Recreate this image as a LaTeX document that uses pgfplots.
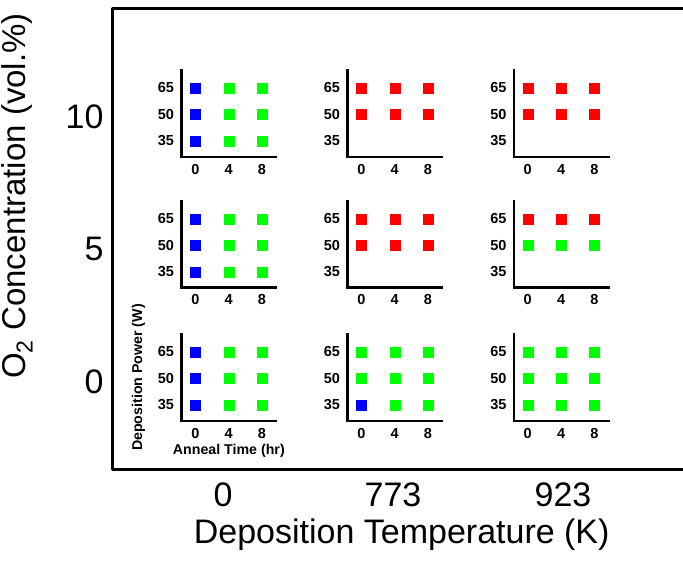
\documentclass[border=0pt]{standalone}
\usepackage{pgfplots}
\pgfplotsset{compat=1.18}
\usepackage{fontspec}
\setmainfont{Liberation Sans}
\definecolor{mblue}{RGB}{0,0,255}
\definecolor{mgreen}{RGB}{0,255,0}
\definecolor{mred}{RGB}{255,0,0}
\pgfplotsset{
  mini/.style={
    scale only axis, width=94.6pt, height=86.6pt,
    anchor=south west,
    xmin=-1.65, xmax=9.7, ymin=26, ymax=75,
    axis lines=left,
    axis line style={-, line width=2.6pt, line cap=rect},
    xtick={0,4,8}, ytick={35,50,65},
    major tick length=0pt,
    tick label style={font=\fontsize{14.5}{16}\selectfont\bfseries},
    xticklabel style={inner sep=1pt, yshift=-6pt},
    yticklabel style={xshift=-4pt},
    /pgf/number format/assume math mode=true,
    clip=false,
  },
  sq/.style={only marks, mark=square*, mark size=5pt, color=#1,
    mark options={solid, fill=#1, draw=#1, line width=0.1pt}},
}
\begin{document}
\begin{tikzpicture}
% outer frame axis
\begin{axis}[
  at={(112pt,91pt)}, anchor=south west,
  scale only axis, width=571pt, height=461pt,
  xmin=0.347, xmax=3.706, ymin=-3.332, ymax=14.064,
  axis line style={draw=none},
  xtick={1,2,3}, xticklabels={0,773,923},
  ytick={0,5,10},
  major tick length=0pt,
  tick label style={font=\fontsize{34}{40}\selectfont},
  /pgf/number format/assume math mode=true,
  xticklabel style={yshift=-9pt},
  yticklabel style={xshift=-5pt},
  clip=false,
]
\draw[line width=3pt, line join=round] (rel axis cs:1,1) -- (rel axis cs:0,1) -- (rel axis cs:0,0) -- (rel axis cs:1,0);
\end{axis}

% Row 1: O2 = 10
\begin{axis}[mini, at={(181.55pt,404.1pt)}]
\addplot[sq=mblue] coordinates {(0,35) (0,50) (0,65)};
\addplot[sq=mgreen] coordinates {(4,35) (4,50) (4,65) (8,35) (8,50) (8,65)};
\end{axis}
\begin{axis}[mini, at={(347.55pt,404.1pt)}]
\addplot[sq=mred] coordinates {(0,50) (0,65) (4,50) (4,65) (8,50) (8,65)};
\end{axis}
\begin{axis}[mini, at={(513.95pt,404.1pt)}]
\addplot[sq=mred] coordinates {(0,50) (0,65) (4,50) (4,65) (8,50) (8,65)};
\end{axis}

% Row 2: O2 = 5
\begin{axis}[mini, at={(181.55pt,273.4pt)}]
\addplot[sq=mblue] coordinates {(0,35) (0,50) (0,65)};
\addplot[sq=mgreen] coordinates {(4,35) (4,50) (4,65) (8,35) (8,50) (8,65)};
\end{axis}
\begin{axis}[mini, at={(347.55pt,273.4pt)}]
\addplot[sq=mred] coordinates {(0,50) (0,65) (4,50) (4,65) (8,50) (8,65)};
\end{axis}
\begin{axis}[mini, at={(513.95pt,273.4pt)}]
\addplot[sq=mred] coordinates {(0,65) (4,65) (8,65)};
\addplot[sq=mgreen] coordinates {(0,50) (4,50) (8,50)};
\end{axis}

% Row 3: O2 = 0
\begin{axis}[mini, at={(181.55pt,140.1pt)},
  xlabel={Anneal Time (hr)}, ylabel={Deposition Power (W)},
  label style={font=\fontsize{14.2}{16}\selectfont\bfseries},
  xlabel style={at={(axis description cs:0.5,-0.262)}, anchor=north, inner sep=0pt},
  ylabel style={at={(axis description cs:-0.4175,0.5)}, anchor=base, rotate=0},
]
\addplot[sq=mblue] coordinates {(0,35) (0,50) (0,65)};
\addplot[sq=mgreen] coordinates {(4,35) (4,50) (4,65) (8,35) (8,50) (8,65)};
\end{axis}
\begin{axis}[mini, at={(347.55pt,140.1pt)}]
\addplot[sq=mblue] coordinates {(0,35)};
\addplot[sq=mgreen] coordinates {(0,50) (0,65) (4,35) (4,50) (4,65) (8,35) (8,50) (8,65)};
\end{axis}
\begin{axis}[mini, at={(513.95pt,140.1pt)}]
\addplot[sq=mgreen] coordinates {(0,35) (0,50) (0,65) (4,35) (4,50) (4,65) (8,35) (8,50) (8,65)};
\end{axis}

\node[font=\fontsize{34}{40}\selectfont, anchor=base] at (401.7pt,17pt) {Deposition Temperature (K)};
\node[font=\fontsize{33}{40}\selectfont, rotate=90, anchor=base] at (25pt,365pt) {O\textsubscript{2} Concentration (vol.\%)};

\pgfresetboundingbox
\useasboundingbox (0,0) rectangle (683pt,561pt);
\end{tikzpicture}
\end{document}
